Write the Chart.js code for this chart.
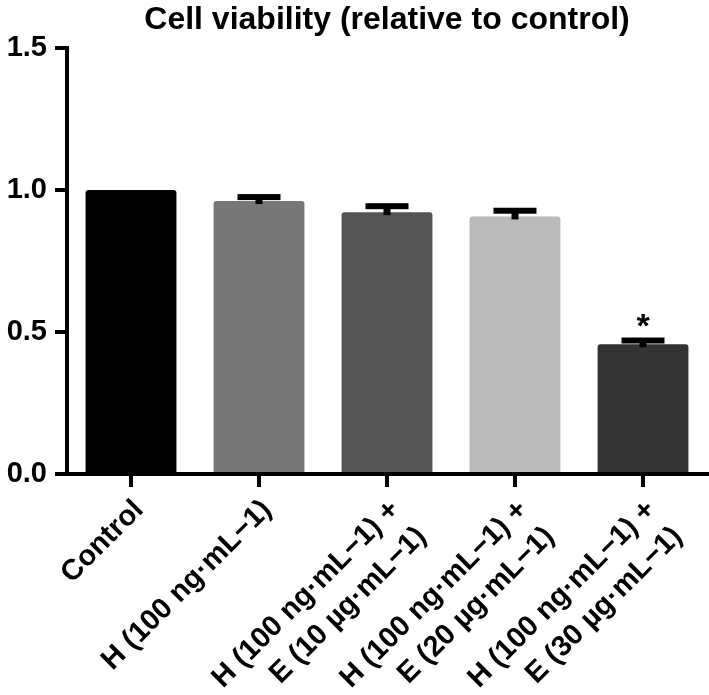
<!DOCTYPE html>
<html>
<head>
<meta charset="utf-8">
<script src="https://cdn.jsdelivr.net/npm/chart.js@4"></script>
<style>
  html, body { margin: 0; padding: 0; background: #fff; }
  canvas { display: block; }
</style>
</head>
<body>
<canvas id="barChart" width="709" height="695"></canvas>
<script>
const groups = [
  'Control',
  'H (100 ng·mL−1)',
  ['H (100 ng·mL−1) +', 'E (10 µg·mL−1)'],
  ['H (100 ng·mL−1) +', 'E (20 µg·mL−1)'],
  ['H (100 ng·mL−1) +', 'E (30 µg·mL−1)']
];
const viability = [1.0, 0.961, 0.922, 0.907, 0.457];
const viabilitySd = [0, 0.014, 0.021, 0.020, 0.013];
const marks = ['', '', '', '', '*'];
const barColors = ['#000000', '#777777', '#545454', '#bababa', '#333333'];
const yTicks = [0, 0.5, 1.0, 1.5];

const FONT = "'Liberation Sans', Arial, sans-serif";

// error bars (upper only) + significance marks
const errorBars = {
  id: 'errorBars',
  afterDatasetsDraw(chart) {
    const ctx = chart.ctx;
    const meta = chart.getDatasetMeta(0);
    const y = chart.scales.y;
    ctx.save();
    ctx.fillStyle = '#000';
    meta.data.forEach((bar, i) => {
      const top = y.getPixelForValue(viability[i] + viabilitySd[i]);
      const base = y.getPixelForValue(viability[i]);
      if (viabilitySd[i] > 0) {
        ctx.fillRect(bar.x - 3.5, top, 7, base - top + 3);
        ctx.fillRect(bar.x - 21.5, top - 3, 43, 6);
      }
      if (marks[i]) {
        ctx.font = 'bold 34px ' + FONT;
        ctx.textAlign = 'center';
        ctx.textBaseline = 'alphabetic';
        ctx.fillText(marks[i], bar.x, top - 4);
      }
    });
    ctx.restore();
  }
};

const plotTitle = {
  id: 'plotTitle',
  afterDraw(chart) {
    const ctx = chart.ctx;
    const area = chart.chartArea;
    ctx.save();
    ctx.font = 'bold 32px ' + FONT;
    ctx.fillStyle = '#000';
    ctx.textAlign = 'center';
    ctx.textBaseline = 'alphabetic';
    ctx.fillText('Cell viability (relative to control)', (area.left + area.right) / 2, 29);
    ctx.restore();
  }
};

const ctxBar = document.getElementById('barChart');
new Chart(ctxBar, {
  type: 'bar',
  data: {
    labels: groups,
    datasets: [{
      data: viability,
      backgroundColor: barColors,
      borderWidth: 0,
      borderRadius: { topLeft: 3, topRight: 3 },
      borderSkipped: 'bottom',
      categoryPercentage: 1,
      barPercentage: 0.71
    }]
  },
  options: {
    responsive: false,
    animation: false,
    devicePixelRatio: 1,
    layout: { padding: { top: 48, right: 2, left: 0, bottom: 0 } },
    plugins: {
      legend: { display: false },
      tooltip: { enabled: false },
      title: { display: false }
    },
    scales: {
      x: {
        z: 1,
        afterFit: (scale) => { scale.height = 221; },
        grid: {
          offset: false,
          drawOnChartArea: false,
          drawTicks: true,
          tickLength: 13,
          lineWidth: 4,
          color: '#000'
        },
        border: { display: true, width: 4, color: '#000' },
        ticks: {
          autoSkip: false,
          minRotation: 45,
          maxRotation: 45,
          padding: 5,
          labelOffset: 8,
          color: '#000',
          font: { family: FONT, size: 29, weight: 'bold', lineHeight: 1.3 }
        }
      },
      y: {
        z: 1,
        min: 0,
        max: 1.5,
        afterFit: (scale) => { scale.width = 67; },
        afterBuildTicks: (scale) => { scale.ticks = yTicks.map(v => ({ value: v })); },
        grid: {
          drawOnChartArea: false,
          drawTicks: true,
          tickLength: 12,
          lineWidth: 4,
          color: '#000'
        },
        border: { display: true, width: 4, color: '#000' },
        ticks: {
          padding: 8,
          color: '#000',
          font: { family: FONT, size: 29, weight: 'bold' },
          callback: (v) => Number(v).toFixed(1)
        }
      }
    }
  },
  plugins: [errorBars, plotTitle]
});
</script>
</body>
</html>
